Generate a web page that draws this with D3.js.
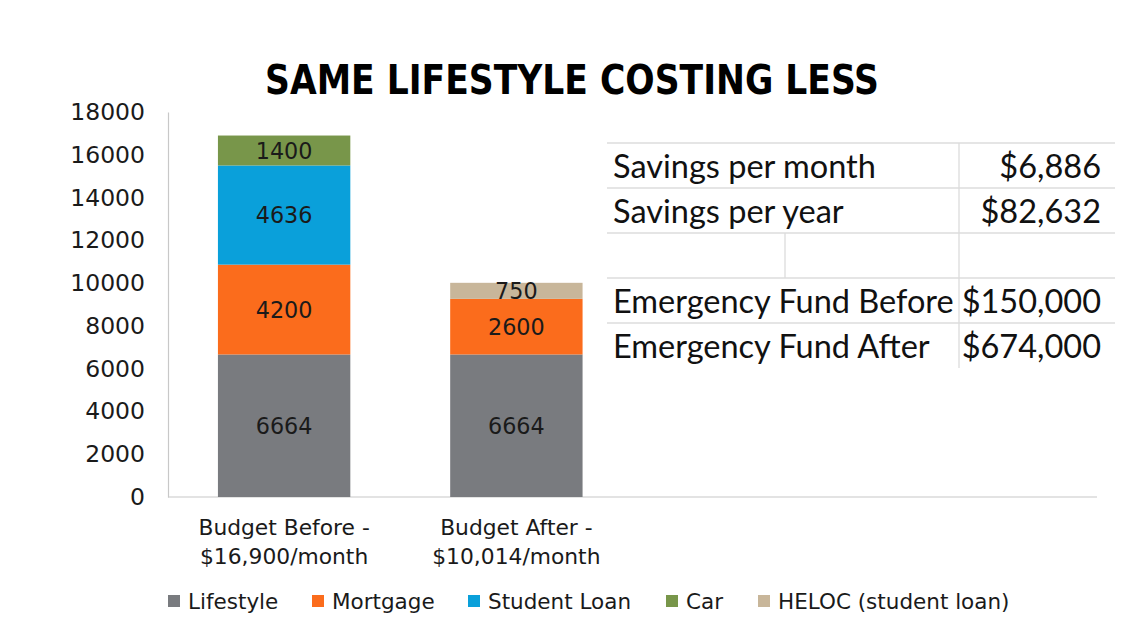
<!DOCTYPE html>
<html><head><meta charset="utf-8">
<script src="https://cdn.jsdelivr.net/npm/d3@7"></script>
<style>body{margin:0;background:#fff}svg{display:block}</style>
</head><body>
<svg id="c" width="1140" height="629"></svg>
<script>
const title = "SAME LIFESTYLE COSTING LESS";
const categories = ["Budget Before -\n$16,900/month", "Budget After -\n$10,014/month"];
const seriesNames = ["Lifestyle", "Mortgage", "Student Loan", "Car", "HELOC (student loan)"];
const lifestyle = [6664, 6664];
const mortgage = [4200, 2600];
const studentLoan = [4636, 0];
const car = [1400, 0];
const heloc = [0, 750];
const colors = ["#797b7f", "#fb6c1c", "#0aa0da", "#78964a", "#c8b69a"];
const yTicks = [0, 2000, 4000, 6000, 8000, 10000, 12000, 14000, 16000, 18000];
const tableLabels = ["Savings per month", "Savings per year", "", "Emergency Fund Before", "Emergency Fund After"];
const tableValues = ["$6,886", "$82,632", "", "$150,000", "$674,000"];

const svg = d3.select("#c");
const font = "'DejaVu Sans', sans-serif";
const rows = categories.map((c, i) => ({cat: c, "Lifestyle": lifestyle[i], "Mortgage": mortgage[i], "Student Loan": studentLoan[i], "Car": car[i], "HELOC (student loan)": heloc[i]}));
const stack = d3.stack().keys(seriesNames)(rows);

const y = d3.scaleLinear().domain([0, 18000]).range([497, 112]);
const x = d3.scaleBand().domain(categories).range([168, 632.5]).paddingInner(0.43).paddingOuter(0.215);
const color = d3.scaleOrdinal().domain(seriesNames).range(colors);

// title
svg.append("text").attr("x", 572).attr("y", 94).attr("text-anchor", "middle")
  .attr("font-family", "'DejaVu Sans Condensed','DejaVu Sans',sans-serif").attr("font-weight", "bold")
  .attr("font-size", 40).attr("textLength", 614).attr("lengthAdjust", "spacingAndGlyphs")
  .attr("fill", "#000").text(title);

// axes
const yAxis = d3.axisLeft(y).tickValues(yTicks).tickSize(0).tickPadding(23).tickFormat(d3.format("d"));
const gy = svg.append("g").attr("transform", "translate(168,0)").call(yAxis);
gy.select(".domain").attr("stroke", "#c8c8c8").attr("stroke-width", 1.2);
gy.selectAll("text").attr("font-family", font).attr("font-size", 23.5).attr("fill", "#1a1a1a");

svg.append("line").attr("x1", 168).attr("x2", 1097).attr("y1", y(0)).attr("y2", y(0))
  .attr("stroke", "#c8c8c8").attr("stroke-width", 1.2);

// bars
const layer = svg.append("g").selectAll("g").data(stack).join("g").attr("fill", d => color(d.key));
layer.selectAll("rect").data(d => d.map(v => ({v, key: d.key}))).join("rect")
  .attr("x", d => x(d.v.data.cat)).attr("width", x.bandwidth())
  .attr("y", d => y(d.v[1])).attr("height", d => y(d.v[0]) - y(d.v[1]));
layer.selectAll("text").data(d => d.map(v => ({v, key: d.key})).filter(e => e.v[1] - e.v[0] > 0)).join("text")
  .attr("x", d => x(d.v.data.cat) + x.bandwidth() / 2)
  .attr("y", d => (y(d.v[0]) + y(d.v[1])) / 2).attr("dy", "0.36em")
  .attr("text-anchor", "middle").attr("font-family", font).attr("font-size", 22.3).attr("fill", "#1a1a1a")
  .text(d => d.v[1] - d.v[0]);

// x labels
categories.forEach(c => {
  const t = svg.append("text").attr("x", x(c) + x.bandwidth() / 2).attr("y", 535)
    .attr("text-anchor", "middle").attr("font-family", font).attr("font-size", 21.8).attr("fill", "#1a1a1a");
  c.split("\n").forEach((line, i) => t.append("tspan").attr("x", x(c) + x.bandwidth() / 2).attr("dy", i ? 29 : 0).text(line));
});

// legend
const legX = [168, 312, 468, 666, 758];
const leg = svg.append("g").selectAll("g").data(seriesNames).join("g")
  .attr("transform", (d, i) => `translate(${legX[i]},601)`);
leg.append("rect").attr("x", 0).attr("y", -6).attr("width", 12).attr("height", 12).attr("fill", d => color(d));
leg.append("text").attr("x", 20).attr("dy", "0.36em").attr("font-family", font).attr("font-size", 21.5)
  .attr("fill", "#1a1a1a").text(d => d);

// table
const tbl = svg.append("g");
const lineYs = [143, 188, 233, 278, 323];
const tfont = "Lato, 'Open Sans', sans-serif";
lineYs.forEach(ly => tbl.append("line").attr("x1", 607).attr("x2", 1115).attr("y1", ly).attr("y2", ly).attr("stroke", "#dcdcdc").attr("stroke-width", 1.3));
tbl.append("line").attr("x1", 959).attr("x2", 959).attr("y1", 143).attr("y2", 368).attr("stroke", "#dcdcdc").attr("stroke-width", 1.3);
tbl.append("line").attr("x1", 785).attr("x2", 785).attr("y1", 233).attr("y2", 278).attr("stroke", "#dcdcdc").attr("stroke-width", 1.3);
tableLabels.forEach((lab, i) => {
  const cy = lineYs[i] + 24;
  tbl.append("text").attr("x", 613).attr("y", cy).attr("dy", "0.35em").attr("font-family", tfont)
    .attr("font-size", 32.5).attr("fill", "#111").text(lab);
  tbl.append("text").attr("x", 1101).attr("y", cy).attr("dy", "0.35em").attr("text-anchor", "end").attr("font-family", tfont)
    .attr("font-size", 32.5).attr("fill", "#111").text(tableValues[i]);
});
</script>
</body></html>
